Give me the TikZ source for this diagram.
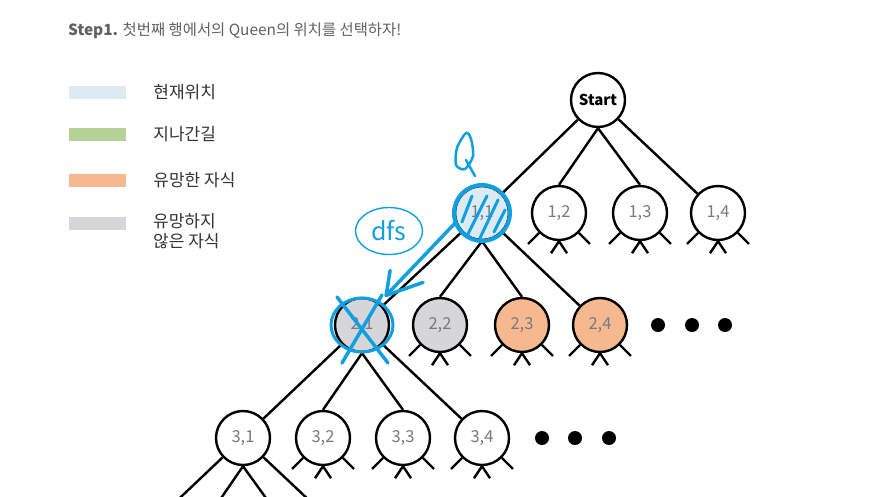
\documentclass[tikz,border=0pt]{standalone}
\usepackage{fontspec}
\setmainfont{Noto Sans CJK KR}
\usepackage{xcolor}
\usetikzlibrary{arrows.meta, positioning, shapes.geometric}

\definecolor{curblue}{RGB}{220,235,242}
\definecolor{pathgreen}{RGB}{181,209,150}
\definecolor{goodorange}{RGB}{246,185,143}
\definecolor{badgray}{RGB}{214,214,216}
\definecolor{pen}{RGB}{16,160,226}
\definecolor{labelgray}{RGB}{120,120,135}

\tikzset{
  state/.style={circle, draw=black, line width=2.4pt, minimum size=54pt, inner sep=0pt,
    fill=white, text=labelgray, font=\fontsize{16.5}{16.5}\selectfont},
  edge/.style={line width=2.4pt},
  legendbox/.style={minimum width=57pt, minimum height=13pt, inner sep=0pt},
  legendtext/.style={inner sep=0pt, anchor=west, align=left, text=black!80,
    font=\fontsize{17}{20}\selectfont},
  ink/.style={draw=pen, line width=3.5pt, line cap=round, line join=round},
  moredots/.style={circle, fill=black, minimum size=14pt, inner sep=0pt},
}

\newcommand{\stubs}[1]{%
  \draw[edge] (#1.south west) -- ++(-11,11);
  \draw[edge] (#1.south) -- ++(-8,12);
  \draw[edge] (#1.south) -- ++(8,12);
  \draw[edge] (#1.south east) -- ++(11,11);
}

\begin{document}
\begin{tikzpicture}[x=1pt, y=-1pt]
\useasboundingbox (0,0) rectangle (881,496);
\clip (0,0) rectangle (881,496);
\fill[white] (0,0) rectangle (881,496);

\node[anchor=west, inner sep=0pt, text=black!62, font=\fontsize{15.4}{15.4}\selectfont] (title) at (68,31)
  {\textbf{Step1.} 첫번째 행에서의 Queen의 위치를 선택하자!};

\node[legendbox, fill=curblue] (lg1) at (97.5,92.5) {};
\node[legendbox, fill=pathgreen] (lg2) at (97.5,134) {};
\node[legendbox, fill=goodorange] (lg3) at (97.5,180) {};
\node[legendbox, fill=badgray] (lg4) at (97.5,223.5) {};
\node[legendtext, right=27pt of lg1] (lt1) {현재위치};
\node[legendtext, right=27pt of lg2] (lt2) {지나간길};
\node[legendtext, right=27pt of lg3] (lt3) {유망한 자식};
\node[legendtext, anchor=north west] (lt4) at (153,213) {유망하지\\않은 자식};

\node[state, text=black, font=\fontsize{15}{15}\selectfont\bfseries] (start) at (598,100) {Start};
\node[state, fill=curblue] (n11) at (482,213) {1,1};
\node[state] (n12) at (559,213) {1,2};
\node[state] (n13) at (640,213) {1,3};
\node[state] (n14) at (718,213) {1,4};
\node[state, fill=badgray] (n21) at (362,325) {2,1};
\node[state, fill=badgray] (n22) at (440,325) {2,2};
\node[state, fill=goodorange] (n23) at (522,325) {2,3};
\node[state, fill=goodorange] (n24) at (600,325) {2,4};
\node[state] (n31) at (243,438) {3,1};
\node[state] (n32) at (323,438) {3,2};
\node[state] (n33) at (403,438) {3,3};
\node[state] (n34) at (482,438) {3,4};
\coordinate (c41) at (124,551);
\coordinate (c42) at (204,523);
\coordinate (c43) at (284,523);
\coordinate (c44) at (363,551);

\draw[edge] (start) -- (n11);
\draw[edge] (start.south) -- (n12.north);
\draw[edge] (start.south) -- (n13.north);
\draw[edge] (start) -- (n14);
\draw[edge] (n11) -- (n21);
\draw[edge] (n11.south) -- (n22.north);
\draw[edge] (n11.south) -- (n23.north);
\draw[edge] (n11) -- (n24);
\draw[edge] (n21) -- (n31);
\draw[edge] (n21.south) -- (n32.north);
\draw[edge] (n21.south) -- (n33.north);
\draw[edge] (n21) -- (n34);
\draw[edge] (n31) -- (c41);
\draw[edge] (n31.south) -- (c42);
\draw[edge] (n31.south) -- (c43);
\draw[edge] (n31) -- (c44);

\foreach \n in {n12,n13,n14,n22,n23,n24,n32,n33,n34} {\stubs{\n}}

\foreach \x [count=\i] in {658,692,725} \node[moredots] (dots2\i) at (\x,325) {};
\foreach \x [count=\i] in {542,575,609} \node[moredots] (dots3\i) at (\x,438) {};

\draw[ink, line width=4pt] (n11.center) circle (28pt);
\draw[ink, line width=3pt] (462,222) -- (472,196);
\draw[ink, line width=3pt] (467,236) -- (487,196);
\draw[ink, line width=3pt] (480,238) -- (498,200);
\draw[ink, line width=3pt] (494,232) -- (505,210);
\draw[ink, line width=2.5pt] plot[smooth cycle] coordinates {(466,133) (457,148) (456,165) (465,169) (473,156) (471,139)};
\draw[ink, line width=2.5pt] (466,160) -- (475,176);
\node[ellipse, draw=pen, line width=1.4pt, minimum width=67pt, minimum height=47pt, text=pen,
  font=\fontsize{25}{25}\selectfont] (dfs) at (389,231) {dfs};
\coordinate (tip) at ([xshift=6pt, yshift=8pt]n21.50);
\draw[ink] (n11.200) -- (tip);
\draw[ink] (tip) ++(4,-25) -- (tip) -- ++(37,-13);
\draw[ink] (n21.center) ++(-25,-28) -- ++(51,66);
\draw[ink] (n21.center) ++(20,-30) -- ++(-40,68);
\draw[ink, line width=3pt] (n21.center) ellipse (31pt and 27pt);
\end{tikzpicture}
\end{document}
